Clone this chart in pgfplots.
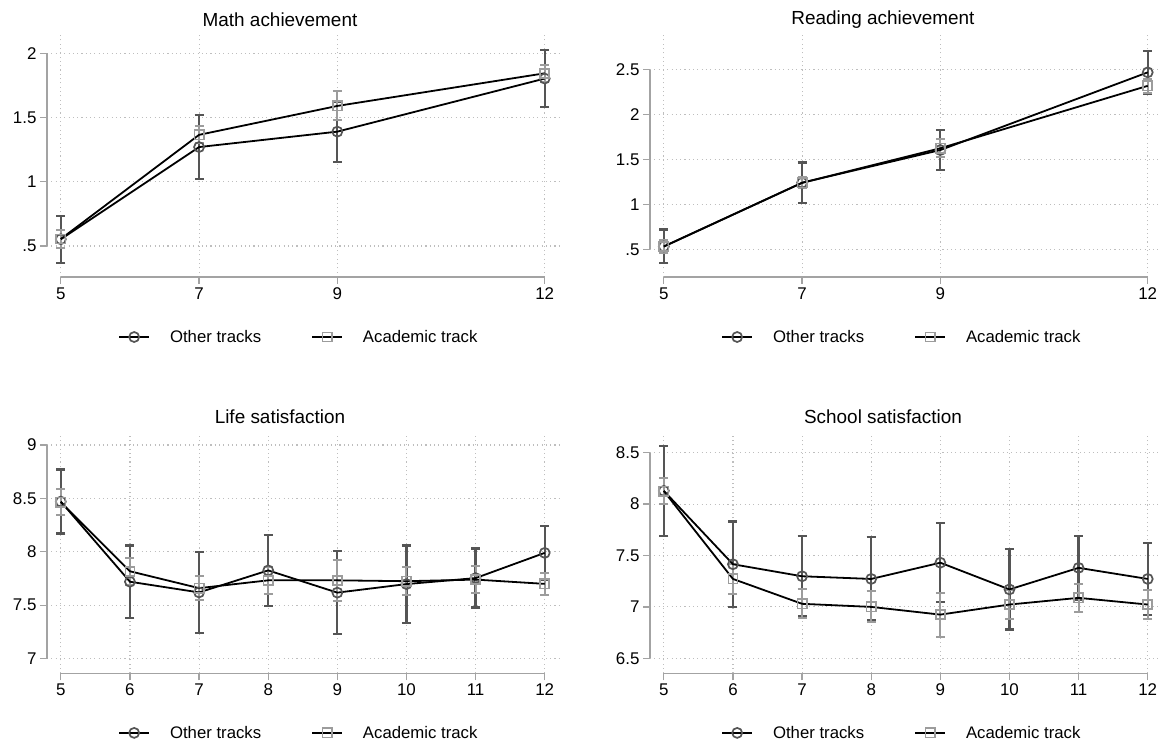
\documentclass[border=0pt]{standalone}
\usepackage{fontspec}
\setmainfont{Liberation Sans}
\usepackage{pgfplots}
\usepackage{pgfplotstable}
\pgfplotsset{compat=1.18}

\definecolor{dk}{HTML}{555555}
\definecolor{lt}{HTML}{9C9C9C}
\definecolor{axgray}{HTML}{A3A3A3}
\definecolor{gridc}{HTML}{BEBEBE}

% x, other mean, other half-CI, academic mean, academic half-CI
\pgfplotstableread{
x  o      oe     a      ae
5  0.553  0.183  0.555  0.070
7  1.270  0.250  1.365  0.065
9  1.390  0.234  1.590  0.113
12 1.803  0.223  1.844  0.065
}\mathdata
\pgfplotstableread{
x  o      oe     a      ae
5  0.532  0.188  0.530  0.070
7  1.241  0.226  1.240  0.060
9  1.605  0.225  1.625  0.100
12 2.470  0.240  2.320  0.080
}\readdata
\pgfplotstableread{
x  o      oe     a      ae
5  8.470  0.300  8.465  0.125
6  7.720  0.338  7.818  0.125
7  7.620  0.378  7.660  0.115
8  7.826  0.330  7.733  0.125
9  7.618  0.388  7.733  0.190
10 7.698  0.362  7.725  0.130
11 7.754  0.276  7.740  0.125
12 7.990  0.250  7.700  0.100
}\lifedata
\pgfplotstableread{
x  o      oe     a      ae
5  8.129  0.439  8.127  0.130
6  7.415  0.415  7.272  0.150
7  7.298  0.389  7.030  0.140
8  7.272  0.405  7.000  0.150
9  7.430  0.383  6.925  0.215
10 7.170  0.390  7.023  0.140
11 7.380  0.307  7.088  0.135
12 7.272  0.348  7.023  0.145
}\schooldata

\tikzset{axl/.style={axgray, line width=1.3bp}}
\pgfplotsset{
  panel/.style={
    scale only axis, width=515bp,
    xmin=4.8, xmax=12.25,
    axis line style={draw=none},
    tick align=outside,
    xtick pos=bottom, ytick pos=left,
    major tick length=7bp,
    tick style={axgray, line width=1.3bp},
    grid=major,
    major grid style={gridc, line width=1.1bp, dash pattern=on 1.1bp off 3.2bp},
    ticklabel style={font=\fontsize{17}{17}\selectfont, text=black},
    /pgf/number format/assume math mode=true,
    clip=false,
    legend style={draw=none, fill=none, legend columns=2,
      font=\fontsize{16.8}{17}\selectfont,
      /tikz/every odd column/.append style={column sep=18bp},
      /tikz/every even column/.append style={column sep=48bp},
      inner sep=0pt, anchor=center},
    legend cell align=left,
    legend image code/.code={\draw[mark repeat=2,mark phase=2] plot coordinates {(0bp,0bp) (15bp,0bp) (30bp,0bp)};},
  },
  othline/.style={black, line width=1.8bp, mark=o, mark size=5bp, mark options={draw=dk, line width=1.7bp, solid, fill=none}},
  acaline/.style={black, line width=1.8bp, mark=square, mark size=4.6bp, mark options={draw=lt, line width=1.7bp, solid, fill=none}},
  otherr/.style={forget plot, draw=none, mark=none, error bars/.cd, y dir=both, y explicit,
    error bar style={draw=dk, line width=2.3bp, solid},
    error mark options={draw=dk, line width=2.3bp, mark size=4.5bp, rotate=90}},
  acaerr/.style={forget plot, draw=none, mark=none, error bars/.cd, y dir=both, y explicit,
    error bar style={draw=lt, line width=2bp, solid},
    error mark options={draw=lt, line width=2bp, mark size=4.5bp, rotate=90}},
}

\begin{document}
\begin{tikzpicture}
\path[use as bounding box] (0,0) rectangle (1158bp,744bp);

\node[font=\fontsize{19}{19}\selectfont] at (280bp,724bp) {Math achievement};
\node[font=\fontsize{19}{19}\selectfont] at (883bp,724bp) {Reading achievement};
\node[font=\fontsize{19}{19}\selectfont] at (280bp,327bp) {Life satisfaction};
\node[font=\fontsize{19}{19}\selectfont] at (883bp,327bp) {School satisfaction};

% Math
\begin{axis}[panel, at={(47bp,467bp)}, anchor=south west, height=242bp,
  ymin=0.259, ymax=2.142,
  xtick={5,7,9,12},
  ytick={0.5,1,1.5,2}, yticklabels={.5,1,1.5,2},
  legend style={at={(axis description cs:0.489,-0.248)}}]
\addplot[otherr] table[x=x,y=o,y error=oe]{\mathdata};
\addplot[acaerr] table[x=x,y=a,y error=ae]{\mathdata};
\addplot[othline] table[x=x,y=o]{\mathdata};
\addlegendentry{Other tracks}
\addplot[acaline] table[x=x,y=a]{\mathdata};
\addlegendentry{Academic track}
\draw[axl] (axis cs:5,0.259) -- (axis cs:12,0.259);
\draw[axl] (axis cs:4.8,0.5) -- (axis cs:4.8,2);
\end{axis}

% Reading
\begin{axis}[panel, at={(650bp,467bp)}, anchor=south west, height=242bp,
  ymin=0.1915, ymax=2.886,
  xtick={5,7,9,12},
  ytick={0.5,1,1.5,2,2.5}, yticklabels={.5,1,1.5,2,2.5},
  legend style={at={(axis description cs:0.489,-0.248)}}]
\addplot[otherr] table[x=x,y=o,y error=oe]{\readdata};
\addplot[acaerr] table[x=x,y=a,y error=ae]{\readdata};
\addplot[othline] table[x=x,y=o]{\readdata};
\addlegendentry{Other tracks}
\addplot[acaline] table[x=x,y=a]{\readdata};
\addlegendentry{Academic track}
\draw[axl] (axis cs:5,0.1915) -- (axis cs:12,0.1915);
\draw[axl] (axis cs:4.8,0.5) -- (axis cs:4.8,2.5);
\end{axis}

% Life satisfaction
\begin{axis}[panel, at={(47bp,70.7bp)}, anchor=south west, height=240.3bp,
  ymin=6.863, ymax=9.112,
  xtick={5,6,7,8,9,10,11,12},
  ytick={7,7.5,8,8.5,9}, yticklabels={7,7.5,8,8.5,9},
  legend style={at={(axis description cs:0.489,-0.248)}}]
\addplot[otherr] table[x=x,y=o,y error=oe]{\lifedata};
\addplot[acaerr] table[x=x,y=a,y error=ae]{\lifedata};
\addplot[othline] table[x=x,y=o]{\lifedata};
\addlegendentry{Other tracks}
\addplot[acaline] table[x=x,y=a]{\lifedata};
\addlegendentry{Academic track}
\draw[axl] (axis cs:5,6.863) -- (axis cs:12,6.863);
\draw[axl] (axis cs:4.8,7) -- (axis cs:4.8,9);
\end{axis}

% School satisfaction
\begin{axis}[panel, at={(650bp,70.7bp)}, anchor=south west, height=240.3bp,
  ymin=6.354, ymax=8.692,
  xtick={5,6,7,8,9,10,11,12},
  ytick={6.5,7,7.5,8,8.5}, yticklabels={6.5,7,7.5,8,8.5},
  legend style={at={(axis description cs:0.489,-0.248)}}]
\addplot[otherr] table[x=x,y=o,y error=oe]{\schooldata};
\addplot[acaerr] table[x=x,y=a,y error=ae]{\schooldata};
\addplot[othline] table[x=x,y=o]{\schooldata};
\addlegendentry{Other tracks}
\addplot[acaline] table[x=x,y=a]{\schooldata};
\addlegendentry{Academic track}
\draw[axl] (axis cs:5,6.354) -- (axis cs:12,6.354);
\draw[axl] (axis cs:4.8,6.5) -- (axis cs:4.8,8.5);
\end{axis}
\end{tikzpicture}
\end{document}
